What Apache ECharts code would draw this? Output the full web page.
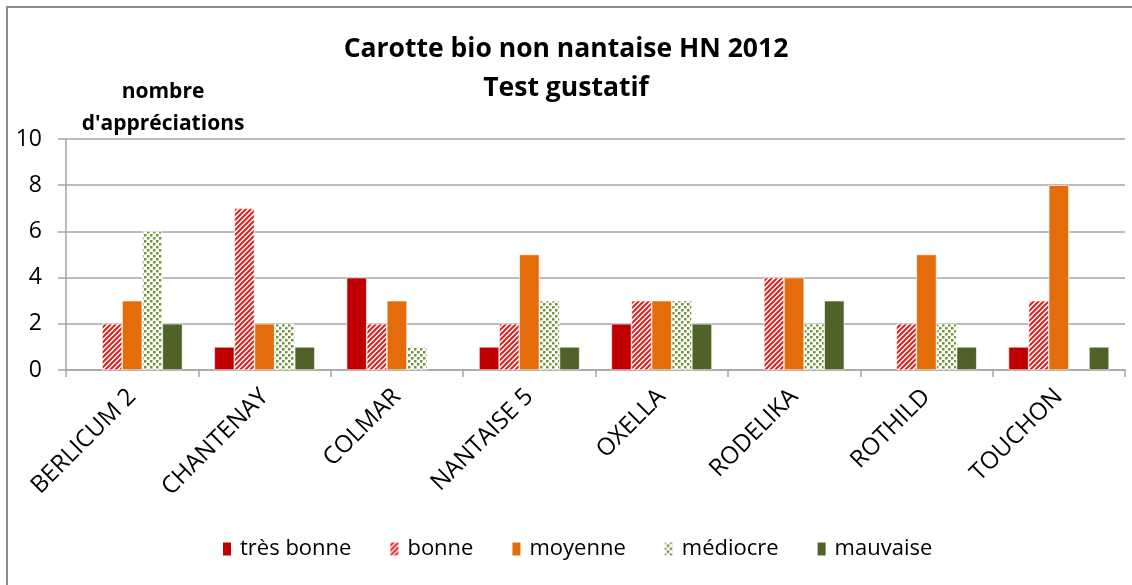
<!DOCTYPE html>
<html lang="fr">
<head>
    <meta charset="UTF-8">
    <title>Carotte bio non nantaise HN 2012</title>
    <style>
        html, body { margin: 0; padding: 0; background: #fff; }
        #main { width: 1132px; height: 585px; }
    </style>
</head>
<body>
<div id="main"></div>
<script src="https://cdn.jsdelivr.net/npm/echarts@6/dist/echarts.min.js"></script>
<script type="text/javascript">
    // variétés (axe X)
    var varietes = ['BERLICUM 2', 'CHANTENAY', 'COLMAR', 'NANTAISE 5', 'OXELLA', 'RODELIKA', 'ROTHILD', 'TOUCHON'];
    var yTicks = [0, 2, 4, 6, 8, 10];
    // nombre d'appréciations par niveau
    var tresBonne = [0, 1, 4, 1, 2, 0, 0, 1];
    var bonne     = [2, 7, 2, 2, 3, 4, 2, 3];
    var moyenne   = [3, 2, 3, 5, 3, 4, 5, 8];
    var mediocre  = [6, 2, 1, 3, 3, 2, 2, 0];
    var mauvaise  = [2, 1, 0, 1, 2, 3, 1, 1];

    // motif hachuré rouge
    function hachures() {
        var c = document.createElement('canvas');
        c.width = 5; c.height = 5;
        var ctx = c.getContext('2d');
        ctx.fillStyle = '#fff';
        ctx.fillRect(0, 0, 5, 5);
        ctx.strokeStyle = '#e0201e';
        ctx.lineWidth = 2;
        ctx.beginPath();
        ctx.moveTo(-1, 6); ctx.lineTo(6, -1);
        ctx.moveTo(-4, 4); ctx.lineTo(4, -4);
        ctx.moveTo(1, 9); ctx.lineTo(9, 1);
        ctx.stroke();
        return c;
    }
    // motif pointillé vert
    function points() {
        var c = document.createElement('canvas');
        c.width = 6; c.height = 6;
        var ctx = c.getContext('2d');
        ctx.fillStyle = '#fff';
        ctx.fillRect(0, 0, 6, 6);
        ctx.fillStyle = '#739439';
        ctx.fillRect(0, 0, 2.5, 2.5);
        ctx.fillRect(3, 3, 2.5, 2.5);
        return c;
    }

    var police = '"Open Sans", Lato, sans-serif';
    var myChart = echarts.init(document.getElementById('main'));

    function serie(nom, data, couleur) {
        return {
            name: nom,
            type: 'bar',
            // les zéros ne sont pas dessinés
            data: data.map(function (v) { return v === 0 ? '-' : v; }),
            barGap: '0%',
            barCategoryGap: '24%',
            itemStyle: { color: couleur, borderColor: '#fff', borderWidth: 0.6 }
        };
    }

    myChart.setOption({
        animation: false,
        textStyle: { fontFamily: police },
        title: {
            text: 'Carotte bio non nantaise HN 2012\nTest gustatif',
            left: 'center',
            top: 25,
            textStyle: { fontFamily: police, fontWeight: 'bold', fontSize: 26.5, lineHeight: 39, color: '#000' }
        },
        graphic: [{
            type: 'rect',
            shape: { x: 7, y: 7, width: 1140, height: 600 },
            style: { fill: 'none', stroke: '#8c8c8c', lineWidth: 2 },
            silent: true
        }, {
            type: 'text',
            x: 163,
            y: 76,
            style: {
                text: "nombre\nd'appréciations",
                align: 'center',
                fontFamily: police, fontWeight: 'bold', fontSize: 21, lineHeight: 32, fill: '#000'
            }
        }],
        legend: {
            bottom: 20,
            left: 216,
            itemWidth: 10,
            itemHeight: 15,
            itemGap: 37,
            icon: 'rect',
            textStyle: { fontFamily: police, fontSize: 22, color: '#000', padding: [0, 0, 0, 3] },
            data: ['très bonne', 'bonne', 'moyenne', 'médiocre', 'mauvaise']
        },
        grid: { left: 66, right: 7, top: 139, bottom: 215, containLabel: false },
        xAxis: {
            type: 'category',
            data: varietes,
            axisLine: { lineStyle: { color: '#a6a6a6', width: 1.5 } },
            axisTick: { show: true, length: 7, lineStyle: { color: '#a6a6a6', width: 1.5 } },
            axisLabel: { rotate: 45, margin: 23, fontSize: 24, color: '#000', fontFamily: police }
        },
        yAxis: {
            type: 'value',
            min: yTicks[0],
            max: yTicks[yTicks.length - 1],
            interval: 2,
            axisLine: { show: true, lineStyle: { color: '#a6a6a6', width: 1.5 } },
            axisTick: { show: true, length: 8, lineStyle: { color: '#a6a6a6', width: 1.5 } },
            splitLine: { lineStyle: { color: '#a6a6a6', width: 1.5 } },
            axisLabel: { fontSize: 23, color: '#000', margin: 24, fontFamily: police }
        },
        series: [
            serie('très bonne', tresBonne, '#c00000'),
            serie('bonne', bonne, { image: hachures(), repeat: 'repeat' }),
            serie('moyenne', moyenne, '#e46c0a'),
            serie('médiocre', mediocre, { image: points(), repeat: 'repeat' }),
            serie('mauvaise', mauvaise, '#4f6228')
        ]
    });
</script>
</body>
</html>
